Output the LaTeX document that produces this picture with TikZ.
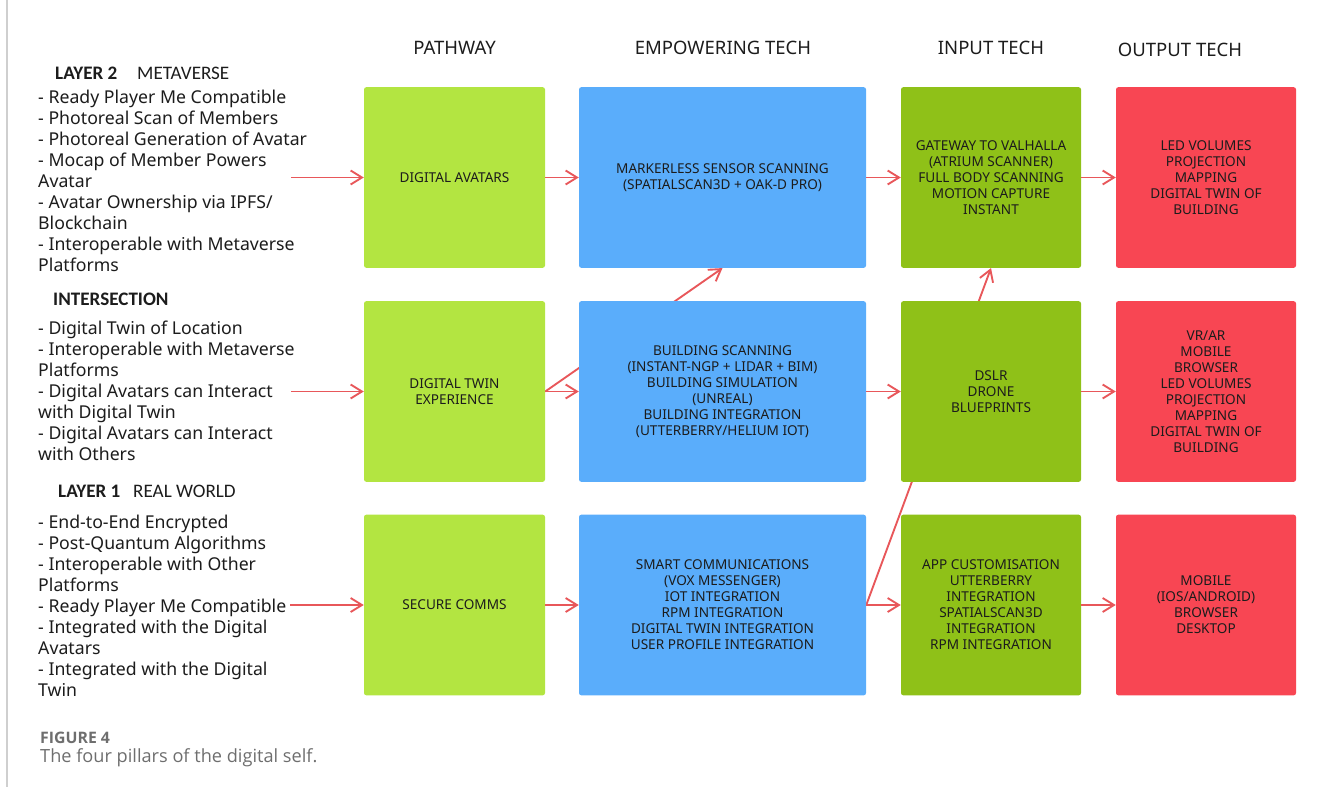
\documentclass[tikz,border=0pt]{standalone}
\usepackage{fontspec}
\setmainfont{Noto Sans}
\newfontfamily\headfont{Carlito}
\newfontfamily\capfont{Open Sans}
\usetikzlibrary{arrows.meta,positioning,backgrounds}
\definecolor{pathgreen}{HTML}{B3E541}
\definecolor{techblue}{HTML}{5AADFB}
\definecolor{inputgreen}{HTML}{8FC118}
\definecolor{outputred}{HTML}{F84653}
\definecolor{arrowred}{HTML}{E8575A}
\definecolor{ink}{HTML}{1C1C1C}
\definecolor{capgray}{HTML}{6E6E6E}
\definecolor{rulegray}{HTML}{CFCFCF}
\tikzset{
  pillar/.style={rounded corners=2pt,minimum height=5.42cm,inner sep=3pt,
                 align=center,text=ink,font=\fontsize{11.6}{13.66}\selectfont},
  pathbox/.style={pillar,fill=pathgreen,minimum width=5.43cm},
  techbox/.style={pillar,fill=techblue,minimum width=8.61cm},
  inbox/.style={pillar,fill=inputgreen,minimum width=5.4cm},
  outbox/.style={pillar,fill=outputred,minimum width=5.4cm},
  flowarr/.style={-{Straight Barb[length=3.4mm,width=4.2mm]},line width=1.6pt,color=arrowred},
  colhead/.style={font=\fontsize{15.8}{18}\selectfont,text=ink,inner sep=0pt},
  layerhead/.style={font=\headfont\fontsize{16.3}{18}\selectfont,text=ink,inner sep=0pt,anchor=base west},
  bullets/.style={align=left,anchor=north west,inner sep=0pt,text=ink,
                  font=\fontsize{15.1}{17.9}\selectfont}
}

\begin{document}
\begin{tikzpicture}[x=0.03cm,y=-0.03cm]
  \useasboundingbox (0,0) rectangle (1329,787);
  \draw[rulegray,line width=1.2pt] (7,0) -- (7,787);

  % column headings
  \node[colhead] (hpath) at (454.5,48) {PATHWAY};
  \node[colhead] (hemp) at (723,48) {EMPOWERING TECH};
  \node[colhead] (hin) at (991,48) {INPUT TECH};
  \node[colhead] (hout) at (1180,50) {OUTPUT TECH};

  % layer descriptions on the left
  \node[layerhead,font=\headfont\bfseries\fontsize{16.3}{18}\selectfont] (lay2) at (55,79) {LAYER 2};
  \node[layerhead] (lay2name) at (137,79) {METAVERSE};
  \node[bullets] (list2) at (38,90) {%
    - Ready Player Me Compatible\\
    - Photoreal Scan of Members\\
    - Photoreal Generation of Avatar\\
    - Mocap of Member Powers\\
    Avatar\\
    - Avatar Ownership via IPFS/\\
    Blockchain\\
    - Interoperable with Metaverse\\
    Platforms};

  \node[layerhead,font=\headfont\bfseries\fontsize{16.3}{18}\selectfont] (inter) at (53,305) {INTERSECTION};
  \node[bullets] (listx) at (38,321) {%
    - Digital Twin of Location\\
    - Interoperable with Metaverse\\
    Platforms\\
    - Digital Avatars can Interact\\
    with Digital Twin\\
    - Digital Avatars can Interact\\
    with Others};

  \node[layerhead,font=\headfont\bfseries\fontsize{16.3}{18}\selectfont] (lay1) at (58,497) {LAYER 1};
  \node[layerhead] (lay1name) at (133,497) {REAL WORLD};
  \node[bullets] (list1) at (38,515) {%
    - End-to-End Encrypted\\
    - Post-Quantum Algorithms\\
    - Interoperable with Other\\
    Platforms\\
    - Ready Player Me Compatible\\
    - Integrated with the Digital\\
    Avatars\\
    - Integrated with the Digital\\
    Twin};

  % the four columns of boxes
  \node[pathbox] (pa1) at (454.5,177.5) {DIGITAL AVATARS};
  \node[techbox] (em1) at (722.5,177.5) {MARKERLESS SENSOR SCANNING\\(SPATIALSCAN3D + OAK-D PRO)};
  \node[inbox] (in1) at (991,177.5) {GATEWAY TO VALHALLA\\(ATRIUM SCANNER)\\FULL BODY SCANNING\\MOTION CAPTURE\\INSTANT};
  \node[outbox] (out1) at (1206,177.5) {LED VOLUMES\\PROJECTION\\MAPPING\\DIGITAL TWIN OF\\BUILDING};

  \node[pathbox] (pa2) at (454.5,391.5) {DIGITAL TWIN\\EXPERIENCE};
  \node[techbox] (em2) at (722.5,391.5) {BUILDING SCANNING\\(INSTANT-NGP + LIDAR + BIM)\\BUILDING SIMULATION\\(UNREAL)\\BUILDING INTEGRATION\\(UTTERBERRY/HELIUM IOT)};
  \node[inbox] (in2) at (991,391.5) {DSLR\\DRONE\\BLUEPRINTS};
  \node[outbox] (out2) at (1206,391.5) {VR/AR\\MOBILE\\BROWSER\\LED VOLUMES\\PROJECTION\\MAPPING\\DIGITAL TWIN OF\\BUILDING};

  \node[pathbox] (pa3) at (454.5,605) {SECURE COMMS};
  \node[techbox] (em3) at (722.5,605) {SMART COMMUNICATIONS\\(VOX MESSENGER)\\IOT INTEGRATION\\RPM INTEGRATION\\DIGITAL TWIN INTEGRATION\\USER PROFILE INTEGRATION};
  \node[inbox] (in3) at (991,605) {APP CUSTOMISATION\\UTTERBERRY\\INTEGRATION\\SPATIALSCAN3D\\INTEGRATION\\RPM INTEGRATION};
  \node[outbox] (out3) at (1206,605) {MOBILE\\(IOS/ANDROID)\\BROWSER\\DESKTOP};

  % arrows along each row
  \coordinate (src1) at (291,177.5);
  \coordinate (src2) at (291,391.5);
  \coordinate (src3) at (290,605);
  \foreach \r in {1,2,3} {
    \draw[flowarr] (src\r) -- (pa\r);
    \draw[flowarr] (pa\r) -- (em\r);
    \draw[flowarr] (em\r) -- (in\r);
    \draw[flowarr] (in\r) -- (out\r);
  }
  % cross links pass under the middle boxes
  \begin{pgfonlayer}{background}
    \draw[flowarr] (pa2.east) -- (em1.south);
    \draw[flowarr] (em3.east) -- (in1.south);
  \end{pgfonlayer}

  % caption
  \node[anchor=base west,inner sep=0pt,text=capgray,font=\capfont\bfseries\fontsize{13.5}{15}\selectfont] (fignum) at (40,743) {FIGURE 4};
  \node[anchor=base west,inner sep=0pt,text=capgray,font=\capfont\fontsize{15.5}{17}\selectfont] (figcap) at (40,762) {The four pillars of the digital self.};
\end{tikzpicture}
\end{document}
